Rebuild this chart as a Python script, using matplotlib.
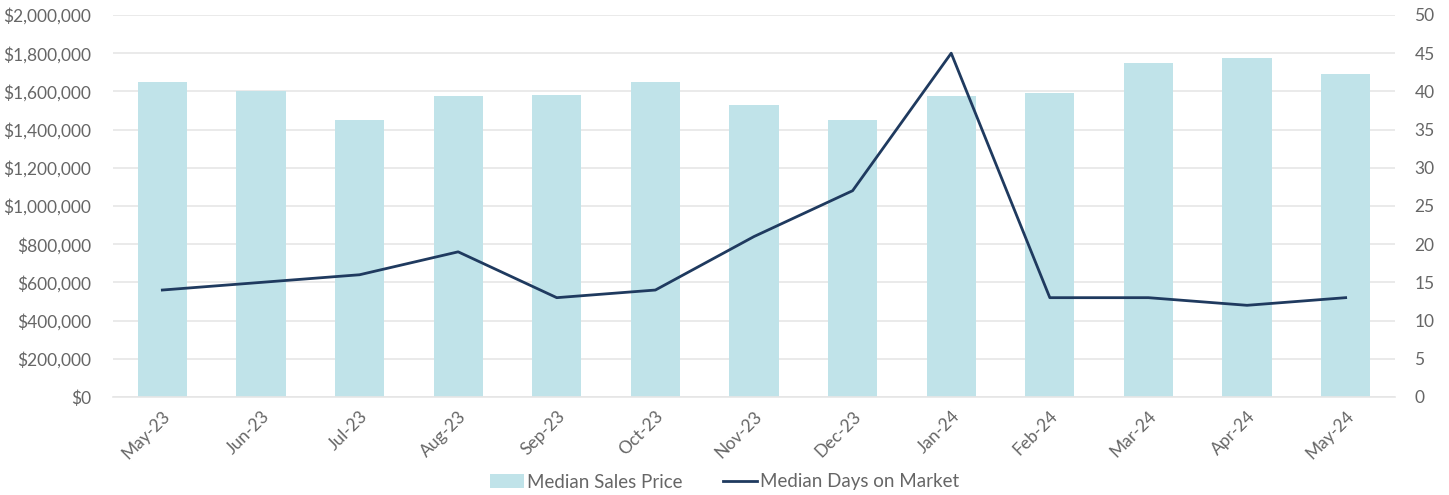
import matplotlib.pyplot as plt
import numpy as np
from matplotlib.ticker import FuncFormatter, MultipleLocator

plt.rcParams['font.family'] = ['Lato', 'DejaVu Sans']

months = ["May-23", "Jun-23", "Jul-23", "Aug-23", "Sep-23", "Oct-23", "Nov-23",
          "Dec-23", "Jan-24", "Feb-24", "Mar-24", "Apr-24", "May-24"]
price = [1650000, 1600000, 1450000, 1575000, 1580000, 1650000, 1530000,
         1450000, 1575000, 1590000, 1750000, 1775000, 1690000]
days = [14, 15, 16, 19, 13, 14, 21, 27, 45, 13, 13, 12, 13]

text_col = "#666666"
grid_col = "#e6e6e6"

fig = plt.figure(figsize=(14.49, 4.95), dpi=100)
ax = fig.add_axes([0.078, 0.198, 0.8847, 0.7717])
ax2 = ax.twinx()

x = np.arange(len(months))
bars = ax.bar(x, price, width=0.5, color="#c0e3e9", label="Median Sales Price", zorder=2)
line, = ax2.plot(x, days, color="#1f3a5f", lw=2, label="Median Days on Market", zorder=3)

ax.set_xlim(-0.5, len(months) - 0.5)
ax.set_ylim(0, 2000000)
ax2.set_ylim(0, 50)
ax.yaxis.set_major_locator(MultipleLocator(200000))
ax2.yaxis.set_major_locator(MultipleLocator(5))
ax.yaxis.set_major_formatter(FuncFormatter(lambda v, p: "${:,.0f}".format(v)))

ax.grid(axis="y", color=grid_col, lw=1.2, zorder=0)
ax.set_axisbelow(True)
for a in (ax, ax2):
    for s in a.spines.values():
        s.set_visible(False)
    a.tick_params(length=0, labelsize=12.5, colors=text_col)
ax.spines["bottom"].set_visible(True)
ax.spines["bottom"].set_color(grid_col)
ax.spines["bottom"].set_linewidth(1.2)

ax.set_xticks(x)
ax.set_xticklabels(months, rotation=45, ha="right", rotation_mode="anchor")
ax.tick_params(axis="x", pad=8)
ax.tick_params(axis="y", pad=16)
ax2.tick_params(axis="y", pad=14)

leg = fig.legend(handles=[bars, line], loc="lower center", bbox_to_anchor=(0.5, -0.025),
                 ncol=2, frameon=False, fontsize=13.5, handlelength=1.8,
                 handletextpad=0.15, columnspacing=2.2)
for t in leg.get_texts():
    t.set_color(text_col)

fig.savefig("out.png", dpi=100)
